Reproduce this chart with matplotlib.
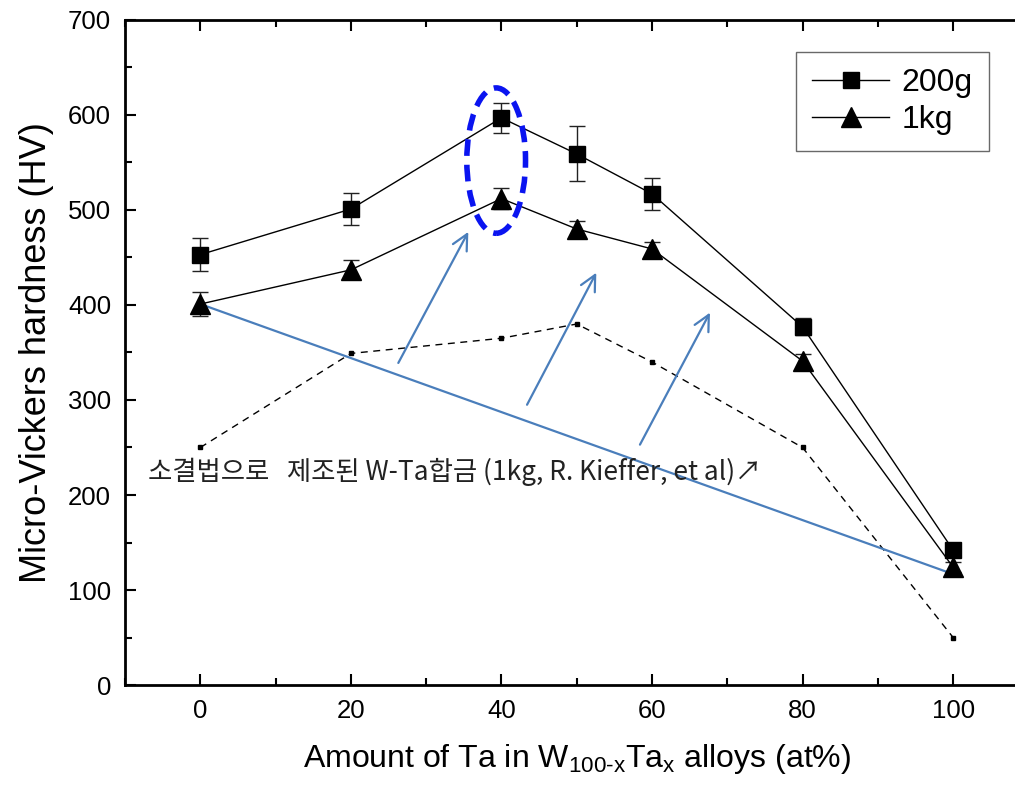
import numpy as np
import matplotlib
matplotlib.use("Agg")
import matplotlib.pyplot as plt
from matplotlib.patches import Ellipse
from matplotlib.lines import Line2D
from matplotlib.ticker import MultipleLocator

plt.rcParams["font.family"] = ["Liberation Sans", "DejaVu Sans"]
plt.rcParams["mathtext.fontset"] = "custom"
plt.rcParams["mathtext.rm"] = "Liberation Sans"

# Ta content (at%)
ta = [0, 20, 40, 50, 60, 80, 100]

# hardness under 200 g load
hv_200g = [453, 501, 597, 559, 517, 377, 142]
err_200g = [17, 17, 16, 29, 17, 9, 5]

# hardness under 1 kg load
hv_1kg = [401, 437, 512, 480, 459, 341, 124]
err_1kg = [13, 10, 11, 8, 7, 7, 5]

# sintered W-Ta alloys (1kg, R. Kieffer et al)
hv_sinter = [250, 349, 365, 380, 340, 250, 50]

fig = plt.figure(figsize=(10.15, 7.87), dpi=100)
ax = fig.add_axes([0.1232, 0.1296, 0.89, 0.845])

ax.errorbar(ta, hv_200g, yerr=err_200g, color="black", lw=1, marker="s",
            ms=12, capsize=6, elinewidth=1, ecolor="#222222", zorder=4)
ax.errorbar(ta, hv_1kg, yerr=err_1kg, color="black", lw=1, marker="^",
            ms=14, capsize=6, elinewidth=1, ecolor="#222222", zorder=4)
ax.plot(ta, hv_sinter, color="black", lw=1, ls=(0, (5, 4)), marker="s", ms=3.5, zorder=3)

blue = "#4a7ebb"
# trend arrow from the 1kg, 0 at% point down to 100 at%
ax.annotate("", xy=(100.6, 115), xytext=(ta[0], hv_1kg[0]),
            arrowprops=dict(arrowstyle="->", color=blue, lw=1.6,
                            mutation_scale=12, shrinkA=0, shrinkB=0))
for (x0, y0), (x1, y1) in [((26.3, 339), (35.6, 477)),
                           ((43.4, 295), (52.6, 434)),
                           ((58.4, 253), (67.7, 392))]:
    ax.annotate("", xy=(x1, y1), xytext=(x0, y0),
                arrowprops=dict(arrowstyle="->", color=blue, lw=1.6,
                                mutation_scale=28, shrinkA=0, shrinkB=0))

ax.add_patch(Ellipse((39.3, 552), 7.8, 153, fill=False, ec="#0a14f0",
                     lw=4, ls=(0, (3, 1.6)), zorder=5))

ax.text(-6.9, 224, "소결법으로   제조된 W-Ta합금 (1kg, R. Kieffer, et al)↗",
        fontsize=19, family=["Noto Sans CJK KR", "DejaVu Sans"],
        ha="left", va="center", color="#222222")

ax.set_xlim(-10, 110)
ax.set_ylim(0, 700)
ax.xaxis.set_major_locator(MultipleLocator(20))
ax.xaxis.set_minor_locator(MultipleLocator(10))
ax.yaxis.set_major_locator(MultipleLocator(100))
ax.yaxis.set_minor_locator(MultipleLocator(50))
ax.tick_params(which="both", direction="in", top=True, width=1.5)
ax.tick_params(which="major", length=8, labelsize=18.5, pad=10)
ax.tick_params(which="minor", length=5)
for s in ax.spines.values():
    s.set_linewidth(2)

ax.set_xlabel(r"Amount of Ta in W$_{\mathregular{100\text{-}x}}$Ta$_{\mathregular{x}}$ alloys (at%)",
              fontsize=23, labelpad=14)
ax.set_ylabel("Micro-Vickers hardness (HV)", fontsize=26, labelpad=10)

handles = [Line2D([], [], color="black", lw=1, marker="s", ms=12),
           Line2D([], [], color="black", lw=1, marker="^", ms=14)]
leg = ax.legend(handles, ["200g", "1kg"], loc="upper right",
                bbox_to_anchor=(0.974, 0.976), fontsize=23,
                frameon=True, fancybox=False, edgecolor="#444444",
                handlelength=2.4, handletextpad=0.4, borderpad=0.5, labelspacing=0.22)
leg.get_frame().set_linewidth(1)

fig.savefig("out.png", dpi=100)
